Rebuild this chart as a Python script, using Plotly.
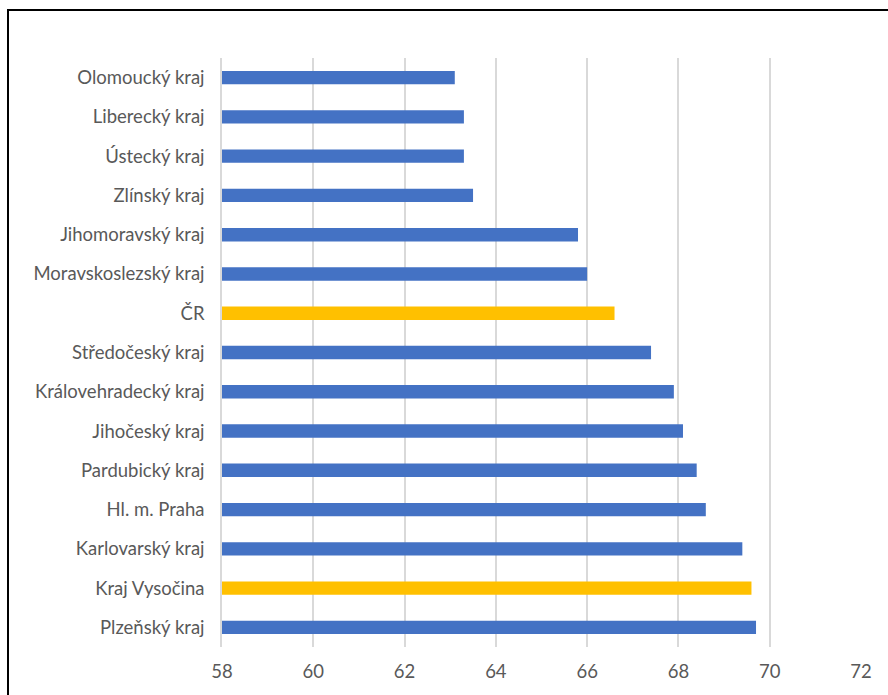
import plotly.graph_objects as go

# Regions ordered top to bottom as drawn
regions = [
    "Olomoucký kraj", "Liberecký kraj", "Ústecký kraj", "Zlínský kraj",
    "Jihomoravský kraj", "Moravskoslezský kraj", "ČR", "Středočeský kraj",
    "Královehradecký kraj", "Jihočeský kraj", "Pardubický kraj",
    "Hl. m. Praha", "Karlovarský kraj", "Kraj Vysočina", "Plzeňský kraj",
]
values = [63.1, 63.3, 63.3, 63.5, 65.8, 66.0, 66.6, 67.4,
          67.9, 68.1, 68.4, 68.6, 69.4, 69.6, 69.7]
highlight = {"ČR", "Kraj Vysočina"}

x_ticks = [58, 60, 62, 64, 66, 68, 70, 72]
AXIS_MIN = 58

BLUE = "#4472C4"
GOLD = "#FFC000"
colors = [GOLD if r in highlight else BLUE for r in regions]

W, H = 888, 695
L, R, T, B = 222, 27, 58, 48

# bars are drawn from the axis origin at 58
fig = go.Figure(
    go.Bar(
        x=[v - AXIS_MIN for v in values],
        y=regions,
        orientation="h",
        base=AXIS_MIN,
        marker=dict(color=colors, line=dict(width=0)),
        hovertext=[f"{v}" for v in values],
    )
)

fig.update_layout(
    width=W,
    height=H,
    margin=dict(l=L, r=R, t=T, b=B),
    paper_bgcolor="white",
    plot_bgcolor="white",
    bargap=0.66,
    showlegend=False,
    font=dict(family="Lato, Calibri, sans-serif", size=18.5, color="#595959"),
    xaxis=dict(
        range=[58, 72],
        tickvals=x_ticks,
        showgrid=True,
        gridcolor="#D9D9D9",
        gridwidth=1.5,
        zeroline=False,
        showline=False,
        ticks="",
        ticklabelstandoff=11,
        fixedrange=True,
    ),
    yaxis=dict(
        autorange="reversed",
        showgrid=False,
        showline=True,
        linecolor="#D9D9D9",
        linewidth=1.5,
        ticks="",
        ticklabelstandoff=12,
        fixedrange=True,
    ),
)

# outer chart frame
pw, ph = W - L - R, H - T - B
fig.add_shape(
    type="rect",
    xref="paper", yref="paper",
    x0=(8 - L) / pw, x1=1 + (R + 20) / pw,
    y0=-(B + 20) / ph, y1=1 + (T - 10) / ph,
    line=dict(color="black", width=2),
    fillcolor="rgba(0,0,0,0)",
    layer="above",
)

fig.write_html("out.html")
